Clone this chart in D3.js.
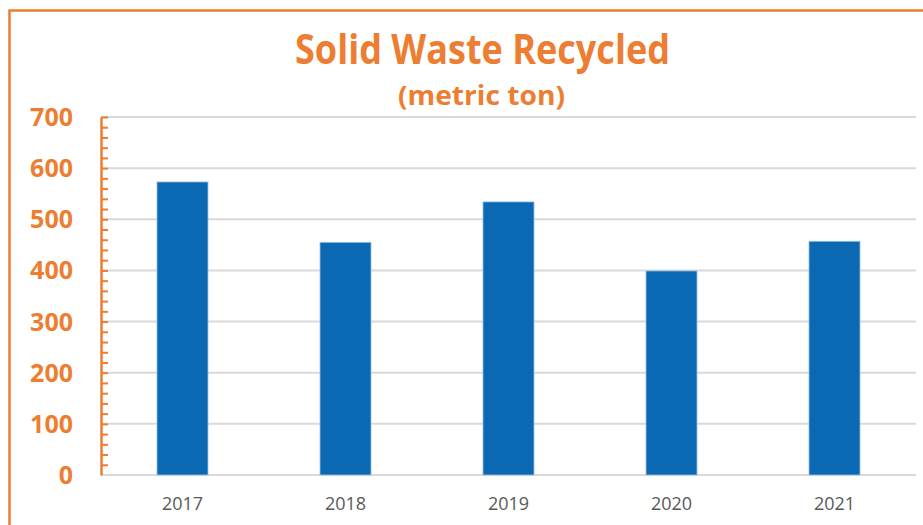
<!DOCTYPE html>
<html>
<head>
<meta charset="utf-8">
<script src="https://cdn.jsdelivr.net/npm/d3@7"></script>
<style>
  body { margin: 0; background: #fff; }
  svg { display: block; }
</style>
</head>
<body>
<div id="main"></div>
<script>
const years = ["2017", "2018", "2019", "2020", "2021"];
const recycled = [573, 455, 534, 399, 457];
const yTicks = [0, 100, 200, 300, 400, 500, 600, 700];
const minorTicks = d3.range(20, 701, 20);

const w = 923;
const h = 525;
const orange = "#ED7D31";

const svg = d3.select("#main").append("svg").attr("width", w).attr("height", h);

// frame around the chart
svg.append("path")
    .attr("d", "M9.5," + h + " V10.5 H" + w)
    .attr("fill", "none")
    .attr("stroke", orange)
    .attr("stroke-width", 2.5);

const plotLeft = 101, plotRight = 916, plotTop = 117, plotBottom = 475;

const xScale = d3.scaleBand()
    .domain(years)
    .range([plotLeft, plotRight])
    .paddingInner(0.687)
    .paddingOuter(0.3435);

const yScale = d3.scaleLinear()
    .domain([0, 700])
    .range([plotBottom, plotTop]);

// grid
svg.append("g")
    .selectAll("line")
    .data(yTicks)
    .enter()
    .append("line")
    .attr("x1", plotLeft)
    .attr("x2", plotRight)
    .attr("y1", d => yScale(d))
    .attr("y2", d => yScale(d))
    .attr("stroke", "#d9d9d9")
    .attr("stroke-width", 2);

// bars
svg.selectAll("rect.bar")
    .data(recycled)
    .enter()
    .append("rect")
    .attr("class", "bar")
    .attr("x", (d, i) => xScale(years[i]))
    .attr("y", d => yScale(d))
    .attr("width", xScale.bandwidth())
    .attr("height", d => plotBottom - yScale(d))
    .attr("fill", "#0B69B3")
    .attr("stroke", "#9DC3E6")
    .attr("stroke-width", 0.8);

// y axis: orange line with minor ticks inside
const yAxis = d3.axisRight(yScale)
    .tickValues(minorTicks)
    .tickSize(7)
    .tickSizeOuter(0)
    .tickFormat("");

const yg = svg.append("g")
    .attr("transform", "translate(" + plotLeft + ",0)")
    .call(yAxis);
yg.select(".domain").attr("stroke", orange).attr("stroke-width", 2.5);
yg.selectAll(".tick line").attr("stroke", orange).attr("stroke-width", 2);

// y labels
svg.append("g")
    .selectAll("text")
    .data(yTicks)
    .enter()
    .append("text")
    .attr("x", 73)
    .attr("y", d => yScale(d))
    .attr("dy", "0.36em")
    .attr("text-anchor", "end")
    .attr("font-family", "Open Sans")
    .attr("font-weight", 700)
    .attr("font-size", 25)
    .attr("fill", orange)
    .text(d => d);

// x axis labels
const xAxis = d3.axisBottom(xScale).tickSize(0).tickPadding(22);
const xg = svg.append("g")
    .attr("transform", "translate(0," + plotBottom + ")")
    .call(xAxis);
xg.select(".domain").remove();
xg.selectAll("text")
    .attr("font-family", "Open Sans")
    .attr("font-size", 18)
    .attr("fill", "#595959");

// titles
svg.append("text")
    .attr("x", 482.5)
    .attr("y", 64)
    .attr("text-anchor", "middle")
    .attr("font-family", "Open Sans")
    .attr("font-weight", 700)
    .attr("font-size", 41)
    .attr("textLength", 375)
    .attr("lengthAdjust", "spacingAndGlyphs")
    .attr("fill", orange)
    .text("Solid Waste Recycled");

svg.append("text")
    .attr("x", 481.5)
    .attr("y", 105)
    .attr("text-anchor", "middle")
    .attr("font-family", "Open Sans")
    .attr("font-weight", 700)
    .attr("font-size", 26)
    .attr("textLength", 167)
    .attr("lengthAdjust", "spacingAndGlyphs")
    .attr("fill", orange)
    .text("(metric ton)");
</script>
</body>
</html>
